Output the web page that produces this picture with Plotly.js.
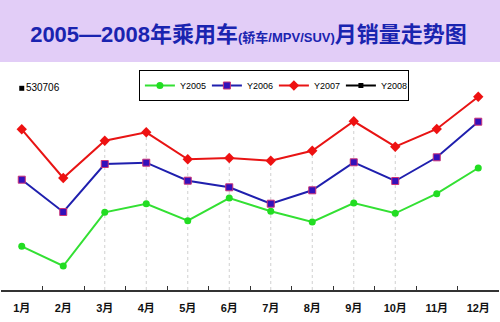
<!DOCTYPE html>
<html><head><meta charset="utf-8">
<script src="https://cdn.plot.ly/plotly-3.0.1.min.js"></script>
<style>html,body{margin:0;padding:0;background:#fff}#chart{width:500px;height:322px}</style>
</head><body><div id="chart"></div>
<script>
const months = ['1月','2月','3月','4月','5月','6月','7月','8月','9月','10月','11月','12月'];
const y2005 = [214700,175300,282700,299900,265900,311300,284700,263300,301300,280700,319900,371300];
const y2006 = [347900,283300,379300,381900,345900,332700,299900,326700,382700,345300,392700,463900];
const y2007 = [448700,351300,425900,442700,388700,391300,385900,405900,464700,413900,449300,513900];
const y2008 = [530706];
const y2008Months = months.slice(0, 1);
const y2008Labels = ['530706'];
const dropMonths = months.slice(2, 10);
const dropValues = y2007.slice(2, 10);

const yRange = [127306, 567306];

const traces = [
  {name:'Y2005', x:months, y:y2005, type:'scatter', mode:'lines+markers',
   line:{color:'#33e033', width:2}, marker:{symbol:'circle', size:7, color:'#22dd22'}},
  {name:'Y2006', x:months, y:y2006, type:'scatter', mode:'lines+markers',
   line:{color:'#1f1fae', width:2}, marker:{symbol:'square', size:7, color:'#3311bb', line:{color:'#cc3377', width:1}}},
  {name:'Y2007', x:months, y:y2007, type:'scatter', mode:'lines+markers',
   line:{color:'#e81414', width:2}, marker:{symbol:'diamond', size:8, color:'#ee1111'}},
  {name:'Y2008', x:y2008Months, y:y2008, type:'scatter', mode:'lines+markers+text',
   text:y2008Labels, textposition:'middle right', textfont:{family:'Liberation Sans, Arial', size:10, color:'#000'},
   line:{color:'#000', width:2}, marker:{symbol:'square', size:5, color:'#000'}}
];

const shapes = dropMonths.map((m, i) => ({
  type:'line', xref:'x', yref:'y', x0:m, x1:m, y0:yRange[0], y1:dropValues[i],
  line:{color:'#d0d0d0', width:1, dash:'dot'}, layer:'below'
}));
shapes.unshift({type:'rect', xref:'paper', yref:'paper', x0:-0.02, x1:1.02, y0:1.036, y1:1.35,
  fillcolor:'#e2cdf7', line:{width:0}, layer:'below'});

const layout = {
  width:500, height:322,
  margin:{l:1, r:1, t:70, b:32, pad:0},
  paper_bgcolor:'#fff', plot_bgcolor:'#fff',
  showlegend:true,
  title:{
    text:'<b>2005—2008年乘用车<span style="font-size:13px">(轿车/MPV/SUV)</span>月销量走势图</b>',
    font:{family:'Liberation Sans, Noto Sans CJK SC, sans-serif', size:22, color:'#1a24b0'},
    x:0.497, xref:'container', xanchor:'center', y:0.895, yref:'container', yanchor:'middle'
  },
  xaxis:{
    type:'category', range:[-0.5, 11.5], showgrid:false, zeroline:false,
    showline:true, linecolor:'#333', linewidth:1.5,
    ticks:'inside', ticklen:4, tickcolor:'#333', tickwidth:1, tickson:'boundaries',
    ticklabelstandoff:7,
    tickfont:{family:'Liberation Sans, Noto Sans CJK SC, sans-serif', size:11, color:'#111', weight:'bold'},
    fixedrange:true
  },
  yaxis:{range:yRange, visible:false, showgrid:false, zeroline:false, fixedrange:true},
  legend:{
    orientation:'h', x:0.548, xanchor:'center', y:1.0, yanchor:'top',
    bgcolor:'#fff', bordercolor:'#000', borderwidth:1,
    font:{family:'Liberation Sans, Arial', size:9, color:'#000'},
    itemwidth:30, entrywidth:22, entrywidthmode:'pixels', tracegroupgap:0
  },
  shapes:shapes
};

Plotly.newPlot('chart', traces, layout, {displayModeBar:false, staticPlot:true});
</script>
</body></html>
